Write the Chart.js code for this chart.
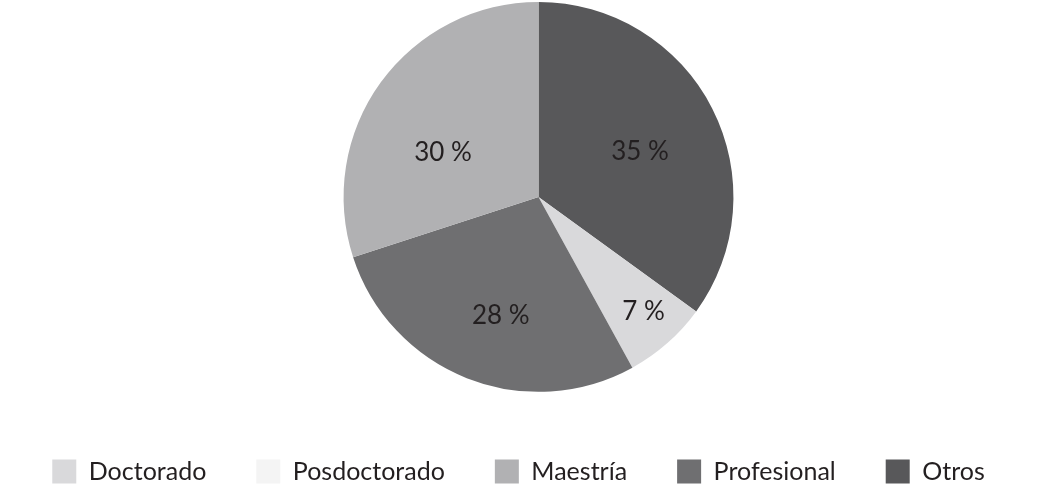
<!DOCTYPE html>
<html>
<head>
<meta charset="utf-8">
<script src="https://cdn.jsdelivr.net/npm/chart.js@4.4.1/dist/chart.umd.min.js"></script>
<style>
  html, body { margin: 0; padding: 0; background: #ffffff; }
  #wrap { width: 1037px; height: 484px; position: relative; }
</style>
</head>
<body>
<div id="wrap"><canvas id="c"></canvas></div>
<script>
// Legend order
const categories = ['Doctorado', 'Posdoctorado', 'Maestría', 'Profesional', 'Otros'];
const values = [7, 0, 30, 28, 35];
const colors = ['#d9d9db', '#f4f4f4', '#b1b1b3', '#6f6f71', '#58585a'];
// Clockwise drawing order from 12 o'clock (indices into the arrays above)
const drawOrder = [4, 0, 1, 3, 2];
// Label placement style (fraction of radius, angle nudge in degrees), per category
const labelRadius = [0.8, 0.6, 0.54, 0.64, 0.57];
const labelNudge = [-1, 0, -11, -4, 3];

const FONT = 'Lato, "Open Sans", sans-serif';

// shift the pie area slightly right (as in the reference) without moving the legend
const shiftPie = {
  id: 'shiftPie',
  afterLayout(chart) {
    const a = chart.chartArea;
    a.left += 40;
    a.width = a.right - a.left;
  }
};

const pieLabels = {
  id: 'pieLabels',
  afterDatasetsDraw(chart) {
    const ctx = chart.ctx;
    const meta = chart.getDatasetMeta(0);
    const data = chart.data.datasets[0].data;
    ctx.save();
    ctx.font = '26px ' + FONT;
    ctx.fillStyle = '#231f20';
    ctx.textAlign = 'center';
    ctx.textBaseline = 'middle';
    meta.data.forEach((arc, i) => {
      const v = data[i];
      if (!v) return;
      const c = drawOrder[i];
      const p = arc.getProps(['x', 'y', 'startAngle', 'endAngle', 'outerRadius'], true);
      const mid = (p.startAngle + p.endAngle) / 2 + labelNudge[c] * Math.PI / 180;
      const f = labelRadius[c];
      const x = p.x + Math.cos(mid) * p.outerRadius * f;
      const y = p.y + Math.sin(mid) * p.outerRadius * f;
      ctx.fillText(v + ' %', x, y);
    });
    ctx.restore();
  }
};

new Chart(document.getElementById('c'), {
  type: 'pie',
  data: {
    labels: drawOrder.map(i => categories[i]),
    datasets: [{
      data: drawOrder.map(i => values[i]),
      backgroundColor: drawOrder.map(i => colors[i]),
      borderWidth: 0,
      radius: '99%'
    }]
  },
  options: {
    responsive: true,
    maintainAspectRatio: false,
    animation: false,
    layout: { padding: { top: 0, bottom: -10, left: 0, right: 0 } },
    plugins: {
      tooltip: { enabled: false },
      legend: {
        position: 'bottom',
        title: { display: true, text: '', font: { size: 1 }, padding: { top: 0, bottom: 14 } },
        labels: {
          boxWidth: 24,
          boxHeight: 24,
          padding: 50,
          color: '#231f20',
          font: { family: FONT, size: 25 },
          sort: (a, b) => categories.indexOf(a.text) - categories.indexOf(b.text)
        }
      }
    }
  },
  plugins: [shiftPie, pieLabels]
});
</script>
</body>
</html>
